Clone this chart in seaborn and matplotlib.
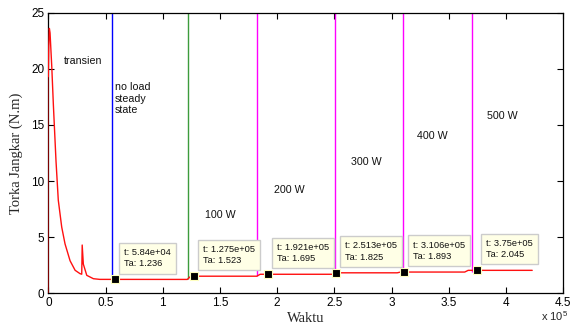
import matplotlib
matplotlib.use("Agg")
import matplotlib.pyplot as plt
import numpy as np
import pandas as pd
import seaborn as sns

# ---- data (time in units of 1e5) ----
t_transient = [0.0, 0.004, 0.009, 0.015, 0.030, 0.044, 0.067, 0.087, 0.117, 0.146,
               0.190, 0.234, 0.277, 0.292, 0.296, 0.306, 0.336, 0.394, 0.450]
ta_transient = [19.3, 22.0, 23.6, 23.2, 20.2, 16.8, 11.8, 8.3, 5.9, 4.4,
                2.9, 2.05, 1.75, 1.70, 4.3, 2.6, 1.6, 1.3, 1.24]
initial_t = [0.0, 0.0]
initial_ta = [0.0, 19.3]

step_times = [1.215, 1.822, 2.49, 3.05, 3.64]
step_levels = [1.236, 1.523, 1.695, 1.825, 1.893, 2.045]
t_end = 4.23

vline_t = [0.555, 1.220, 1.823, 2.502, 3.100, 3.704]
vline_bottom = [1.236, 1.236, 1.523, 1.695, 1.825, 1.893]
vline_colors = ["#0000FF", "#3C9C3C", "#FF00FF", "#FF00FF", "#FF00FF", "#FF00FF"]

marker_t = [0.584, 1.275, 1.921, 2.513, 3.106, 3.75]
marker_ta = [1.236, 1.523, 1.695, 1.825, 1.893, 2.045]
marker_t_labels = ["5.84e+04", "1.275e+05", "1.921e+05", "2.513e+05", "3.106e+05", "3.75e+05"]

region_labels = ["transien", "no load\nsteady\nstate", "100 W", "200 W", "300 W", "400 W", "500 W"]
region_x = [0.14, 0.583, 1.371, 1.975, 2.646, 3.223, 3.838]
region_y = [20.7, 18.8, 6.98, 9.2, 11.7, 14.0, 15.8]
region_va = ["center", "top", "center", "center", "center", "center", "center"]

xticks = [0, 0.5, 1, 1.5, 2, 2.5, 3, 3.5, 4, 4.5]
xtick_labels = ["0", "0.5", "1", "1.5", "2", "2.5", "3", "3.5", "4", "4.5"]
yticks = [0, 5, 10, 15, 20, 25]

# ---- build the steady part from step data ----
ramp = 0.03
st_t = [t_transient[-1]]
st_y = [step_levels[0]]
for i, ts in enumerate(step_times):
    st_t += [ts, ts + ramp]
    st_y += [step_levels[i], step_levels[i + 1]]
st_t.append(t_end)
st_y.append(step_levels[-1])

curve = pd.DataFrame({"t": list(t_transient) + st_t[1:],
                      "ta": list(ta_transient) + st_y[1:]})

sns.set_theme(style="white")
plt.rcParams["font.family"] = ["Liberation Sans", "DejaVu Sans"]
plt.rcParams["mathtext.default"] = "regular"

fig = plt.figure(figsize=(5.74, 3.28), dpi=100)
ax = fig.add_axes([0.0842, 0.1058, 0.981 - 0.0842, 0.9613 - 0.1058])

ax.vlines(vline_t, vline_bottom, 25, colors=vline_colors, linewidth=1.0, zorder=2)
sns.lineplot(x=initial_t, y=initial_ta, ax=ax, color="#8B0000", linewidth=1.3,
             sort=False, estimator=None, zorder=3)
sns.lineplot(data=curve, x="t", y="ta", ax=ax, color="#FF1010", linewidth=1.0,
             sort=False, estimator=None, zorder=3)
sns.scatterplot(x=marker_t, y=marker_ta, ax=ax, marker="s", s=32, color="black",
                edgecolor="#FFFFC0", linewidth=0.8, zorder=5)

for mt, my, lab in zip(marker_t, marker_ta, marker_t_labels):
    ax.annotate(f"t: {lab}\nTa: {my:.4g}", xy=(mt, my), xytext=(9, 11),
                textcoords="offset pixels", ha="left", va="bottom", fontsize=6.7,
                color="#111111", zorder=6, linespacing=1.35,
                bbox=dict(boxstyle="square,pad=0.55", facecolor="#FFFFE6",
                          edgecolor="#CCCCCC", linewidth=1.0))

for txt, x, y, va in zip(region_labels, region_x, region_y, region_va):
    ax.text(x, y, txt, ha="left", va=va, fontsize=7.7, color="#111111",
            linespacing=1.2, zorder=4)

ax.set_xlim(0, 4.5)
ax.set_ylim(0, 25)
ax.set_xticks(xticks)
ax.set_xticklabels(xtick_labels)
ax.set_yticks(yticks)
ax.tick_params(direction="in", length=4, width=0.8, labelsize=8.5, colors="black",
               top=True, right=True, bottom=True, left=True, pad=3)
for sp in ax.spines.values():
    sp.set_visible(True)
    sp.set_color("black")
    sp.set_linewidth(0.9)

ax.set_xlabel("Waktu", family=["Liberation Serif", "DejaVu Serif"], fontsize=10.5,
              labelpad=2)
ax.set_ylabel("Torka Jangkar (N.m)", family=["Liberation Serif", "DejaVu Serif"],
              fontsize=10.5, labelpad=6)

fig.text(541 / 574, 1 - 316 / 328, r"x $10^5$", ha="left", va="center", fontsize=8)

fig.savefig("out.png", dpi=100, facecolor="white")
